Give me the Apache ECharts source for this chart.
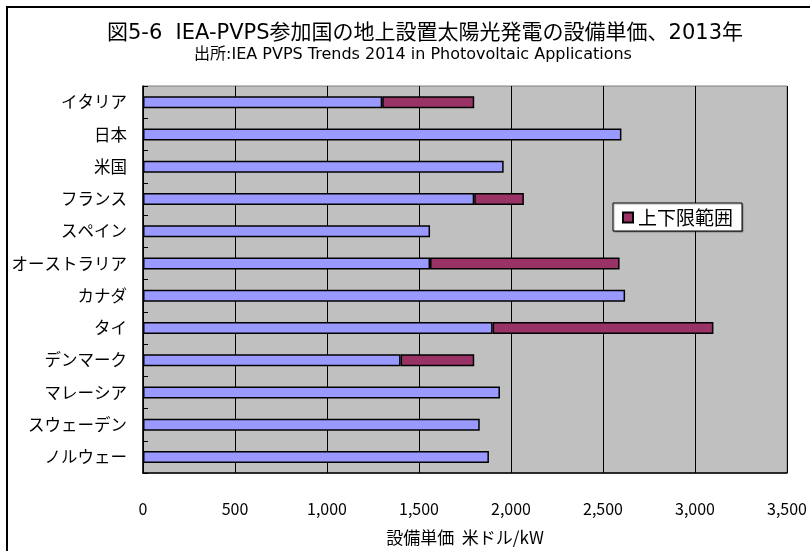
<!DOCTYPE html>
<html>
<head>
<meta charset="utf-8">
<script src="https://cdn.jsdelivr.net/npm/echarts@6/dist/echarts.min.js"></script>
<style>
  html, body { margin: 0; padding: 0; background: #fff; }
  #chart { width: 810px; height: 551px; }
</style>
</head>
<body>
<div id="chart"></div>
<script>
// Countries, top to bottom
const countries = ['イタリア', '日本', '米国', 'フランス', 'スペイン', 'オーストラリア',
  'カナダ', 'タイ', 'デンマーク', 'マレーシア', 'スウェーデン', 'ノルウェー'];
// Lower bound of the installed cost (USD/kW)
const lowerCost = [1300, 2600, 1960, 1800, 1560, 1560, 2620, 1900, 1400, 1940, 1830, 1880];
// Upper bound where a range was reported (null = single value)
const upperCost = [1800, null, null, 2070, null, 2590, null, 3100, 1800, null, null, null];
// Axis ticks
const xTicks = [0, 500, 1000, 1500, 2000, 2500, 3000, 3500];

const rangeCost = upperCost.map((u, i) => (u == null ? '-' : u - lowerCost[i]));

const FONT = '"Noto Sans CJK JP", "Noto Sans", sans-serif';
const HEAD_FONT = '"DejaVu Sans", "Noto Sans CJK JP", sans-serif';

const chart = echarts.init(document.getElementById('chart'), null, { renderer: 'canvas' });

chart.setOption({
  backgroundColor: '#ffffff',
  animation: false,
  textStyle: { fontFamily: FONT, color: '#000' },
  title: [
    {
      text: '図5-6  IEA-PVPS参加国の地上設置太陽光発電の設備単価、2013年',
      left: 420, top: 18, textAlign: 'center',
      textStyle: { fontSize: 21, fontWeight: 'normal', color: '#000', fontFamily: HEAD_FONT }
    },
    {
      text: '出所:IEA PVPS Trends 2014 in Photovoltaic Applications',
      left: 408, top: 42, textAlign: 'center',
      textStyle: { fontSize: 16, fontWeight: 'normal', color: '#000', fontFamily: HEAD_FONT }
    }
  ],
  legend: {
    data: ['上下限範囲'],
    left: 613, top: 203,
    orient: 'vertical',
    backgroundColor: '#ffffff',
    borderColor: '#000',
    borderWidth: 1,
    padding: [5, 9, 4, 9],
    shadowColor: 'rgba(0,0,0,0.35)',
    shadowOffsetX: 1, shadowOffsetY: 1, shadowBlur: 1,
    icon: 'rect',
    itemWidth: 10, itemHeight: 10, itemGap: 4,
    textStyle: { fontSize: 19, color: '#000', fontFamily: FONT, padding: [0, 0, 0, 0] }
  },
  grid: {
    left: 143, right: 22, top: 86, bottom: 71,
    show: true,
    backgroundColor: '#C0C0C0',
    borderColor: '#808080',
    borderWidth: 1
  },
  xAxis: {
    type: 'value',
    min: xTicks[0], max: xTicks[xTicks.length - 1], interval: 500,
    axisLine: { show: true, lineStyle: { color: '#000', width: 1.5 } },
    axisTick: { show: true, inside: true, length: 5, lineStyle: { color: '#000' } },
    splitLine: { show: true, lineStyle: { color: '#000', width: 1 } },
    axisLabel: {
      fontSize: 16, color: '#000', margin: 28, fontFamily: FONT,
      formatter: v => v.toLocaleString('en-US')
    },
    name: '設備単価  米ドル/kW',
    nameLocation: 'middle',
    nameGap: 56,
    nameTextStyle: { fontSize: 17, color: '#000', fontFamily: FONT }
  },
  yAxis: {
    type: 'category',
    inverse: true,
    data: countries,
    axisLine: { show: true, lineStyle: { color: '#000', width: 1.5 } },
    axisTick: { show: true, inside: true, length: 5, lineStyle: { color: '#000' } },
    splitLine: { show: false },
    axisLabel: { fontSize: 16.5, color: '#000', margin: 16, fontFamily: FONT }
  },
  series: [
    {
      name: '下限',
      type: 'bar',
      stack: 'cost',
      data: lowerCost,
      barWidth: 12,
      itemStyle: { color: '#9999FF', borderColor: '#000', borderWidth: 1.5 }
    },
    {
      name: '上下限範囲',
      type: 'bar',
      stack: 'cost',
      data: rangeCost,
      barWidth: 12,
      itemStyle: { color: '#993366', borderColor: '#000', borderWidth: 1.5 }
    }
  ],
  graphic: [
    {
      type: 'rect',
      silent: true,
      z: 100,
      shape: { x: 7, y: 7, width: 900, height: 900 },
      style: { fill: 'none', stroke: '#000', lineWidth: 2 }
    }
  ]
});
</script>
</body>
</html>
